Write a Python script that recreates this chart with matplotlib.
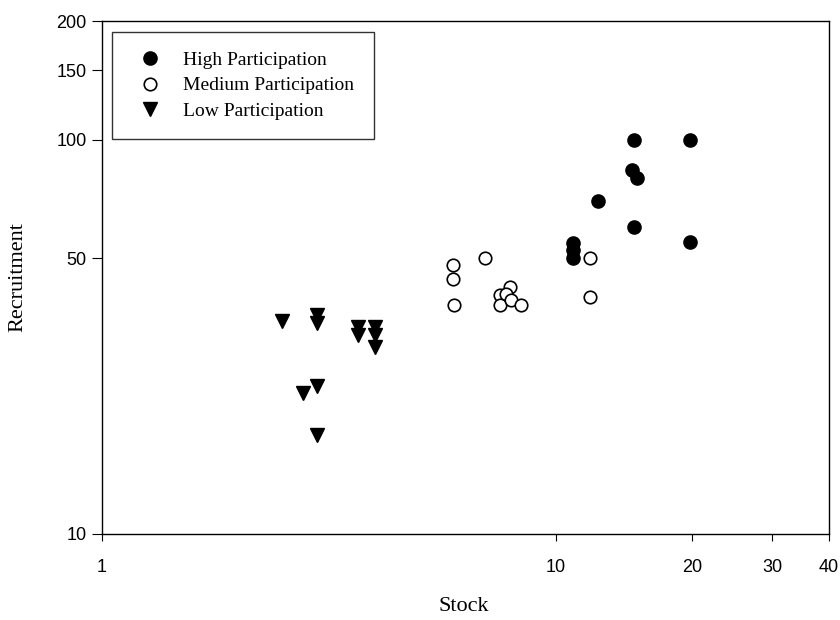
#!/usr/bin/env python3
"""Stock-recruitment scatter by participation level (log-log)."""

import matplotlib

matplotlib.use("Agg")
import matplotlib.pyplot as plt

# values
high_stock = [10.9, 10.9, 10.9, 12.4, 14.85, 14.7, 15.1, 14.85, 19.8, 19.8]
high_recruit = [54.8, 52.6, 50.2, 70.0, 100, 83.9, 80.1, 60.1, 100, 55.1]

medium_stock = [5.93, 5.93, 5.96, 6.98, 7.53, 7.92, 7.76, 7.53, 7.96, 8.37, 11.9, 11.9]
medium_recruit = [48.2, 44.4, 38.1, 50.2, 40.4, 42.4, 40.7, 38.1, 39.3, 38.1, 50.2, 40.0]

low_stock = [2.49, 2.98, 2.98, 2.77, 2.98, 2.98, 3.66, 3.99, 3.66, 3.99, 3.99]
low_recruit = [34.7, 35.9, 34.3, 22.8, 23.7, 17.8, 33.5, 33.5, 32.0, 32.0, 29.8]

x_ticks = [1, 10, 20, 30, 40]
y_ticks = [10, 50, 100, 150, 200]

SERIF = "Liberation Serif"
SANS = "Liberation Sans"

fig = plt.figure(figsize=(8.4, 6.2), dpi=100)
# axes box in pixels: left 102, right 829, top 21, bottom 534
ax = fig.add_axes([102 / 840, 1 - 534 / 620, (829 - 102) / 840, (534 - 21) / 620])

ax.plot(high_stock, high_recruit, linestyle="none", marker="o", markersize=9.5,
        color="black", label="High Participation")
ax.plot(medium_stock, medium_recruit, linestyle="none", marker="o", markersize=9,
        markerfacecolor="white", markeredgecolor="black", markeredgewidth=1.2,
        label="Medium Participation")
ax.plot(low_stock, low_recruit, linestyle="none", marker="v", markersize=10,
        color="black", label="Low Participation")

ax.set_xscale("log")
ax.set_yscale("log")
ax.set_xlim(1, 40)
ax.set_ylim(10, 200)
ax.set_xticks(x_ticks)
ax.set_xticklabels([str(t) for t in x_ticks])
ax.set_yticks(y_ticks)
ax.set_yticklabels([str(t) for t in y_ticks])
ax.minorticks_off()
ax.tick_params(axis="x", direction="out", length=5, pad=13, labelsize=13)
ax.tick_params(axis="y", direction="out", length=7, pad=4, labelsize=13)
for lab in ax.get_xticklabels() + ax.get_yticklabels():
    lab.set_fontfamily(SANS)
for spine in ax.spines.values():
    spine.set_linewidth(1.0)

ax.set_xlabel("Stock", fontfamily=SERIF, fontsize=16, va="center")
ax.xaxis.set_label_coords(0.497, -0.142)
ax.set_ylabel("Recruitment", fontfamily=SERIF, fontsize=16, va="center")
ax.yaxis.set_label_coords(-0.1155, 0.5)

leg = ax.legend(loc="upper left", bbox_to_anchor=(0.0138, 0.9786), borderaxespad=0,
                frameon=True, fancybox=False, edgecolor="black", borderpad=1.0,
                handletextpad=0.76, labelspacing=0.4, handlelength=1.9,
                prop={"family": SERIF, "size": 14})
leg.get_frame().set_linewidth(1.0)

fig.savefig("out.png", dpi=100)
plt.close(fig)
